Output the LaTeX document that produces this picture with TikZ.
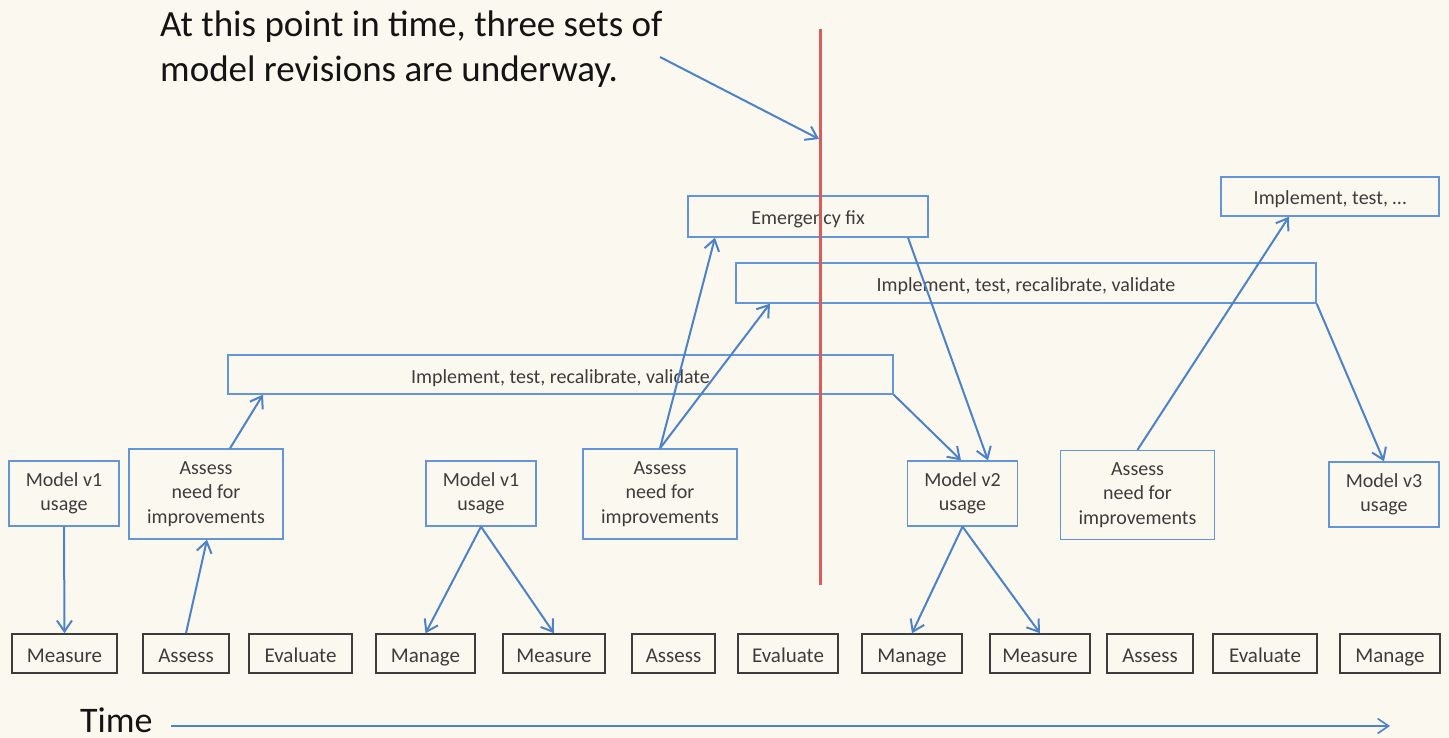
\documentclass[tikz,border=0pt]{standalone}
\usepackage{fontspec}
\setmainfont{Carlito}
\usetikzlibrary{arrows.meta,calc}
\definecolor{bgcream}{RGB}{251,249,239}
\definecolor{boxblue}{RGB}{100,150,215}
\definecolor{arrowblue}{RGB}{78,130,200}
\definecolor{redline}{RGB}{218,92,90}
\definecolor{boxgray}{RGB}{60,60,60}
\definecolor{textgray}{RGB}{60,60,60}
\definecolor{titlecolor}{RGB}{20,20,20}
\begin{document}
\begin{tikzpicture}[x=1pt,y=-1pt,
  bluebox/.style={draw=boxblue,line width=1.3pt,inner sep=0pt,text=textgray,
    font=\fontsize{20}{24.5}\selectfont,align=center},
  barbox/.style={bluebox,text height=17pt,text depth=0pt},
  graybox/.style={draw=boxgray,line width=1.5pt,inner sep=0pt,minimum height=39pt,
    text=textgray,font=\fontsize{21}{24.5}\selectfont,text height=18pt,text depth=0pt},
  conn/.style={draw=arrowblue,line width=2pt,-{Straight Barb[length=11pt,width=15pt]}}]
\fill[bgcream] (0,0) rectangle (1449,738);
\useasboundingbox (0,0) rectangle (1449,738);

% title
\node[anchor=base west,align=left,inner sep=0pt,text=titlecolor,
  font=\fontsize{37}{45}\selectfont] (title) at (160,82)
  {At this point in time, three sets of\\model revisions are underway.};

% red line
\coordinate (rtop) at (820,29);
\coordinate (rbot) at (820,585);
\coordinate (ttip) at (819,139);
\coordinate (tstart) at (660,57);

% bottom boxes
\node[graybox,minimum width=105pt] (m1) at (64.5,653.5) {Measure};
\node[graybox,minimum width=86pt] (a1) at (186,653.5) {Assess};
\node[graybox,minimum width=103pt] (e1) at (300.5,653.5) {Evaluate};
\node[graybox,minimum width=99pt] (g1) at (425.5,653.5) {Manage};
\node[graybox,minimum width=102pt] (m2) at (554,653.5) {Measure};
\node[graybox,minimum width=83pt] (a2) at (673.5,653.5) {Assess};
\node[graybox,minimum width=100pt] (e2) at (788,653.5) {Evaluate};
\node[graybox,minimum width=100pt] (g2) at (912,653.5) {Manage};
\node[graybox,minimum width=100pt] (m3) at (1040,653.5) {Measure};
\node[graybox,minimum width=86pt] (a3) at (1150,653.5) {Assess};
\node[graybox,minimum width=104pt] (e3) at (1265,653.5) {Evaluate};
\node[graybox,minimum width=100pt] (g3) at (1390,653.5) {Manage};

% upper boxes
\node[bluebox,minimum width=110pt,minimum height=65pt] (u1) at (64,493.5) {Model v1\\usage};
\node[bluebox,minimum width=154pt,minimum height=90pt] (n1) at (206,494) {Assess\\need for\\improvements};
\node[bluebox,minimum width=110pt,minimum height=65pt] (u2) at (481,493.5) {Model v1\\usage};
\node[bluebox,minimum width=154pt,minimum height=90pt] (n2) at (660,494) {Assess\\need for\\improvements};
\node[bluebox,minimum width=110pt,minimum height=65pt] (u3) at (962.5,493.5) {Model v2\\usage};
\node[bluebox,minimum width=154pt,minimum height=89pt] (n3) at (1137.5,495) {Assess\\need for\\improvements};
\node[bluebox,minimum width=110pt,minimum height=65pt] (u4) at (1384,494.5) {Model v3\\usage};

% bars
\node[barbox,minimum width=665pt,minimum height=39pt] (b1) at (560.5,374.5) {Implement, test, recalibrate, validate};
\node[barbox,minimum width=240pt,minimum height=41pt] (ef) at (808,216.5) {Emergency fix};
\node[barbox,minimum width=580pt,minimum height=40pt] (b2) at (1026,283) {Implement, test, recalibrate, validate};
\node[barbox,minimum width=218pt,minimum height=39pt] (b3) at (1330,196.5) {Implement, test, \dots};

% connectors
\draw[conn] (u1.south) -- (m1.north);
\draw[conn] (a1.north) -- ([xshift=1pt]n1.south);
\draw[conn] ([xshift=24pt]n1.north) -- ([xshift=-297.5pt]b1.south);
\draw[conn] (u2.south) -- (g1.north);
\draw[conn] (u2.south) -- (m2.north);
\draw[conn] (n2.north) -- ([xshift=-93pt]ef.south);
\draw[conn] (n2.north) -- ([xshift=-256pt]b2.south);
\draw[conn] ([xshift=100pt]ef.south) -- ([xshift=25.5pt]u3.north);
\draw[conn] (b1.south east) -- ([xshift=-1.5pt]u3.north);
\draw[conn] (u3.south) -- (g2.north);
\draw[conn] (u3.south) -- (m3.north);
\draw[conn] (n3.north) -- ([xshift=-41pt]b3.south);
\draw[conn] (b2.south east) -- (u4.north);

% red line and title arrow
\draw[redline,line width=3pt] (rtop) -- (rbot);
\draw[conn] (tstart) -- (ttip);

% time
\node[anchor=base west,inner sep=0pt,text=titlecolor,font=\fontsize{36}{40}\selectfont] (time) at (80,732) {Time};
\coordinate (timeend) at (1390,726);
\draw[conn,line width=1.6pt] ([xshift=18pt]time.east |- timeend) -- (timeend);
\end{tikzpicture}
\end{document}
